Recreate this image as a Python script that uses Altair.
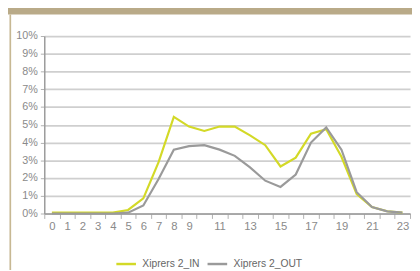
import altair as alt
import pandas as pd

hours = list(range(24))
series_names = ["Xiprers 2_IN", "Xiprers 2_OUT"]
in_values = [0.05, 0.05, 0.05, 0.05, 0.05, 0.2, 0.85, 2.9, 5.45, 4.9, 4.65, 4.9,
             4.9, 4.4, 3.85, 2.65, 3.15, 4.5, 4.75, 3.2, 1.1, 0.37, 0.13, 0.05]
out_values = [0.0, 0.0, 0.0, 0.0, 0.0, 0.05, 0.45, 1.95, 3.6, 3.8, 3.85, 3.6,
              3.25, 2.6, 1.85, 1.5, 2.2, 4.0, 4.85, 3.6, 1.2, 0.37, 0.12, 0.05]
y_ticks = list(range(11))
x_tick_positions = [h - 0.5 for h in range(25)]

colors = ["#d3d927", "#9a9a9a"]

rows = []
for h, a, b in zip(hours, in_values, out_values):
    rows.append({"hour": h, "value": a, "series": series_names[0]})
    rows.append({"hour": h, "value": b, "series": series_names[1]})
df = pd.DataFrame(rows)

FONT = "Liberation Sans"

lines = alt.Chart(df).mark_line(strokeWidth=2.2, interpolate="linear").encode(
    x=alt.X("hour:Q",
            scale=alt.Scale(domain=[-0.5, 23.5], nice=False, zero=False),
            axis=alt.Axis(values=x_tick_positions, title=None, grid=False,
                          domainColor="#9a9a9a", domainWidth=1.5,
                          tickColor="#b0b0b0", tickSize=5, tickWidth=1,
                          labelOffset=7.77, labelFlush=False, labelOverlap=False,
                          labelFont=FONT, labelFontSize=11.5, labelColor="#8a8a8a",
                          labelPadding=2,
                          labelExpr="(datum.value + 0.5 <= 9 || ((datum.value + 0.5) % 2 == 1 && datum.value + 0.5 <= 23)) ? format(datum.value + 0.5, 'd') : ''")),
    y=alt.Y("value:Q",
            scale=alt.Scale(domain=[0, 10], nice=False),
            axis=alt.Axis(values=y_ticks, title=None, grid=True,
                          gridColor="#cfcfcf", gridWidth=1.8,
                          domainColor="#9a9a9a", domainWidth=1.5,
                          tickColor="#b0b0b0", tickSize=4,
                          labelFont=FONT, labelFontSize=11, labelColor="#8a8a8a",
                          labelPadding=3,
                          labelExpr="datum.value + '%'")),
    color=alt.Color("series:N",
                    scale=alt.Scale(domain=series_names, range=colors),
                    legend=alt.Legend(title=None, orient="none", direction="horizontal",
                                      legendX=72, legendY=221,
                                      symbolType="stroke", symbolSize=400,
                                      symbolStrokeWidth=2.5,
                                      labelFont=FONT, labelFontSize=10.5,
                                      labelColor="#666666", labelOffset=5,
                                      columnPadding=2)),
)

deco = pd.DataFrame({"k": [0]})
band = alt.Chart(deco).mark_rect(color="#b9aa88").encode(
    x=alt.value(-37), x2=alt.value(380), y=alt.value(-30), y2=alt.value(-22)
)
border = alt.Chart(deco).mark_rect(color="#c7b893").encode(
    x=alt.value(-35.5), x2=alt.value(-33.8), y=alt.value(-22), y2=alt.value(240)
)

chart = alt.layer(band, border, lines).properties(
    width=373, height=181,
    padding={"left": 37, "top": 26, "right": 2, "bottom": 55},
    autosize=alt.AutoSizeParams(type="none"),
    background="white",
).configure_view(stroke=None)

chart.save("out.html", embed_options={"renderer": "svg", "actions": False})
